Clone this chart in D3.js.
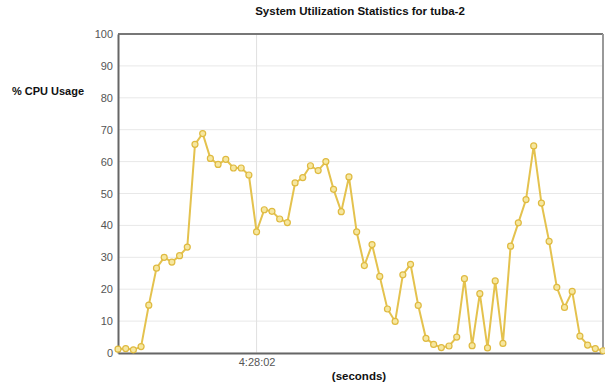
<!DOCTYPE html>
<html><head><meta charset="utf-8">
<script src="https://cdn.jsdelivr.net/npm/d3@7"></script>
<style>body{margin:0;background:#fff;} text{font-family:"Liberation Sans",Arial,sans-serif;}</style>
</head><body><svg id="c" width="605" height="388"></svg>
<script>
const title = "System Utilization Statistics for tuba-2";
const yLabel = "% CPU Usage";
const xLabel = "(seconds)";
const cpuValues = [1.2,1.4,1,2,15,26.6,30,28.5,30.5,33.2,
  65.4,68.8,61,59.1,60.7,58,58,55.8,
  38,44.9,44.4,42,40.9,
  53.3,55,58.7,57.2,60,51.3,44.3,55.2,
  38,27.4,34,24,13.8,9.9,24.5,27.8,14.9,4.6,2.7,1.7,2.2,5,23.3,2.3,18.6,1.6,22.6,3,
  33.5,40.8,48.1,64.9,47,35,20.6,14.3,19.3,5.3,2.5,1.4,0.7];
const xTickIndex = [18];
const xTickLabels = ["4:28:02"];
const yTicks = [0,10,20,30,40,50,60,70,80,90,100];

const svg = d3.select("#c");
const m = {l:118, r:2, t:34, b:35};
const W = 605, H = 388;
const x = d3.scaleLinear().domain([0, cpuValues.length-1]).range([m.l, W-m.r]);
const y = d3.scaleLinear().domain([0,100]).range([H-m.b, m.t]);

svg.append("g").selectAll("line").data(yTicks).join("line")
  .attr("x1", m.l).attr("x2", W-m.r).attr("y1", d=>y(d)).attr("y2", d=>y(d))
  .attr("stroke", "#e8e8e8").attr("stroke-width", 1);
svg.append("g").selectAll("line").data(xTickIndex).join("line")
  .attr("x1", d=>x(d)).attr("x2", d=>x(d)).attr("y1", m.t).attr("y2", H-m.b)
  .attr("stroke", "#e0e0e0").attr("stroke-width", 1);

svg.append("line").attr("x1", m.l).attr("x2", W-m.r).attr("y1", m.t).attr("y2", m.t).attr("stroke", "#777").attr("stroke-width", 2);
svg.append("line").attr("x1", W-m.r).attr("x2", W-m.r).attr("y1", m.t).attr("y2", H-m.b).attr("stroke", "#999").attr("stroke-width", 2);

const yAxis = svg.append("g").attr("transform", `translate(${m.l},0)`)
  .call(d3.axisLeft(y).tickValues(yTicks).tickSize(0).tickPadding(5));
yAxis.select(".domain").attr("stroke", "#666").attr("stroke-width", 2);
yAxis.selectAll("text").attr("fill", "#555").attr("font-size", 11).attr("font-family", "Liberation Sans, Arial, sans-serif");

const xAxis = svg.append("g").attr("transform", `translate(0,${H-m.b})`)
  .call(d3.axisBottom(x).tickValues(xTickIndex).tickFormat((d,i)=>xTickLabels[i]).tickSize(0).tickPadding(5));
xAxis.select(".domain").attr("stroke", "#666").attr("stroke-width", 2);
xAxis.selectAll("text").attr("fill", "#555").attr("font-size", 11).attr("font-family", "Liberation Sans, Arial, sans-serif");

const line = d3.line().x((d,i)=>x(i)).y(d=>y(d));
svg.append("path").datum(cpuValues).attr("d", line)
  .attr("fill", "none").attr("stroke", "#e4c24e").attr("stroke-width", 2);
svg.append("g").selectAll("circle").data(cpuValues).join("circle")
  .attr("cx", (d,i)=>x(i)).attr("cy", d=>y(d)).attr("r", 3)
  .attr("fill", "#f6e7a0").attr("stroke", "#dfba40").attr("stroke-width", 1.2);

svg.append("text").attr("x", 360).attr("y", 15).attr("text-anchor", "middle")
  .attr("font-size", 11.5).attr("font-weight", "bold").attr("fill", "#111").text(title);
svg.append("text").attr("x", 48).attr("y", 95).attr("text-anchor", "middle")
  .attr("font-size", 11).attr("font-weight", "bold").attr("fill", "#111").text(yLabel);
svg.append("text").attr("x", 359).attr("y", 380).attr("text-anchor", "middle")
  .attr("font-size", 11.5).attr("font-weight", "bold").attr("fill", "#111").text(xLabel);
</script></body></html>
